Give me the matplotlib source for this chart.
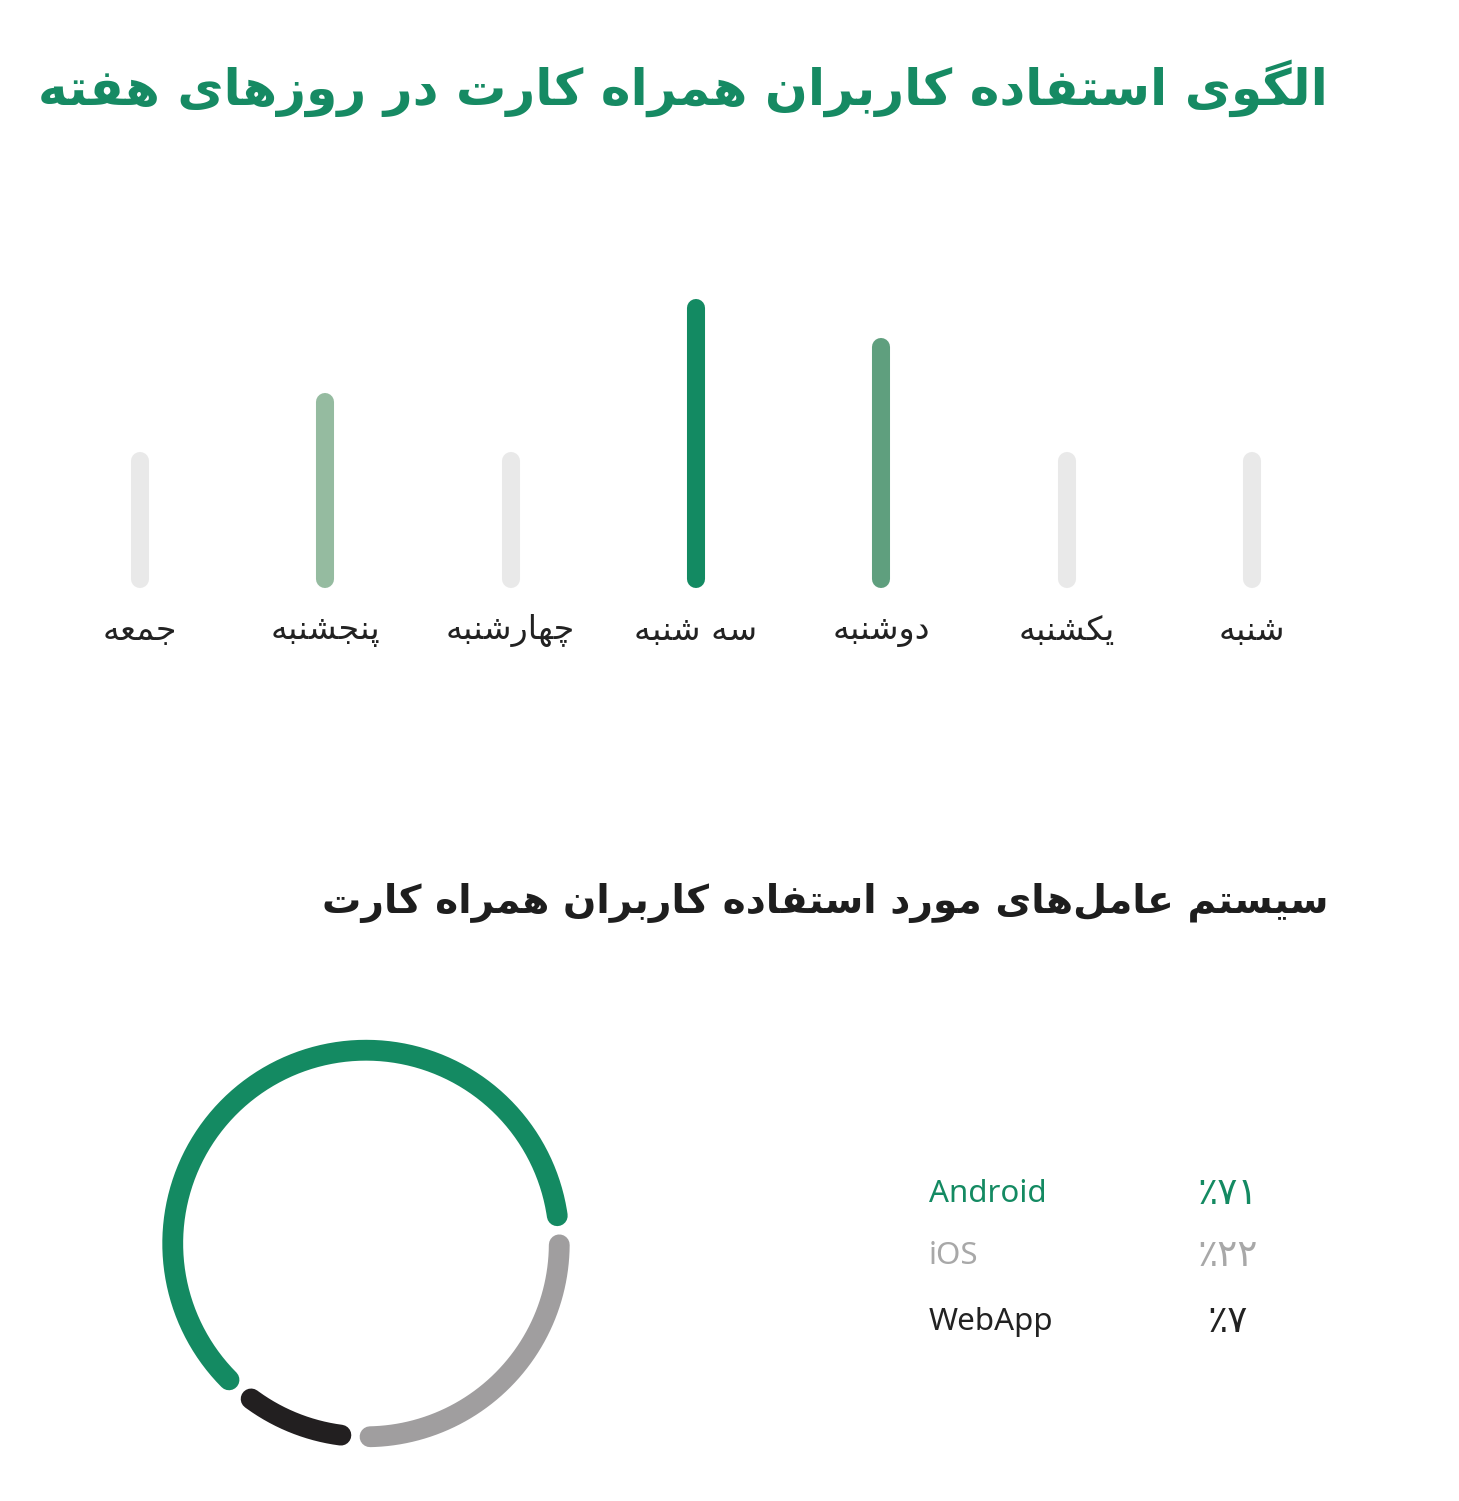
import numpy as np
import matplotlib
matplotlib.use('Agg')
import matplotlib.pyplot as plt

# ---- data ----
title = 'الگوی استفاده کاربران همراه کارت در روزهای هفته'
subtitle = 'سیستم عامل‌های مورد استفاده کاربران همراه کارت'

days = ['جمعه', 'پنجشنبه', 'چهارشنبه', 'سه شنبه', 'دوشنبه', 'یکشنبه', 'شنبه']
day_values = [10, 15, 10, 23, 19.7, 10, 10]
day_colors = ['#e9e9e9', '#95bba0', '#e9e9e9', '#138a62', '#5f9f7e', '#e9e9e9', '#e9e9e9']

os_names = ['Android', 'iOS', 'WebApp']
os_percent = [71, 22, 7]
# arc lengths (degrees) as drawn in the original, not exactly proportional
os_arc_deg = [216.6, 88.4, 29.0]
os_arc_colors = ['#148a62', '#a09e9f', '#221f20']
os_text_colors = ['#148a62', '#a8a8a8', '#222222']

W, H = 1459, 1501

# ---- minimal persian shaping (DejaVu Sans has the presentation forms) ----
FORMS = {
    'ا': ('\uFE8D', '\uFE8E', None, None),
    'ب': ('\uFE8F', '\uFE90', '\uFE91', '\uFE92'),
    'پ': ('\uFB56', '\uFB57', '\uFB58', '\uFB59'),
    'ت': ('\uFE95', '\uFE96', '\uFE97', '\uFE98'),
    'ج': ('\uFE9D', '\uFE9E', '\uFE9F', '\uFEA0'),
    'چ': ('\uFB7A', '\uFB7B', '\uFB7C', '\uFB7D'),
    'د': ('\uFEA9', '\uFEAA', None, None),
    'ر': ('\uFEAD', '\uFEAE', None, None),
    'ز': ('\uFEAF', '\uFEB0', None, None),
    'س': ('\uFEB1', '\uFEB2', '\uFEB3', '\uFEB4'),
    'ش': ('\uFEB5', '\uFEB6', '\uFEB7', '\uFEB8'),
    'ع': ('\uFEC9', '\uFECA', '\uFECB', '\uFECC'),
    'ف': ('\uFED1', '\uFED2', '\uFED3', '\uFED4'),
    'ک': ('\uFB8E', '\uFB8F', '\uFB90', '\uFB91'),
    'گ': ('\uFB92', '\uFB93', '\uFB94', '\uFB95'),
    'ل': ('\uFEDD', '\uFEDE', '\uFEDF', '\uFEE0'),
    'م': ('\uFEE1', '\uFEE2', '\uFEE3', '\uFEE4'),
    'ن': ('\uFEE5', '\uFEE6', '\uFEE7', '\uFEE8'),
    'و': ('\uFEED', '\uFEEE', None, None),
    'ه': ('\uFEE9', '\uFEEA', '\uFEEB', '\uFEEC'),
    'ی': ('\uFBFC', '\uFBFD', '\uFBFE', '\uFBFF'),
}


def fa(text):
    out = []
    for i, c in enumerate(text):
        if c not in FORMS:
            out.append(c)
            continue
        prev = text[i - 1] if i > 0 else None
        nxt = text[i + 1] if i + 1 < len(text) else None
        join_prev = prev in FORMS and FORMS[prev][2] is not None
        join_next = nxt in FORMS and FORMS[c][2] is not None
        iso, fin, ini, med = FORMS[c]
        if join_prev and join_next:
            out.append(med)
        elif join_prev:
            out.append(fin)
        elif join_next:
            out.append(ini)
        else:
            out.append(iso)
    return ''.join(out).replace('\u200c', '')[::-1]


def fa_percent(n):
    digits = str(n).translate(str.maketrans('0123456789', '۰۱۲۳۴۵۶۷۸۹'))
    return '٪' + digits


def px(x, y):
    return x / W, 1 - y / H


def fit_width(t, target):
    # shrink/grow a text so it spans `target` pixels
    r = fig.canvas.get_renderer()
    for _ in range(3):
        w = t.get_window_extent(r).width
        t.set_fontsize(t.get_fontsize() * target / w)


fig = plt.figure(figsize=(W / 100, H / 100), dpi=100)
fig.patch.set_facecolor('white')

# title
t_title = fig.text(*px(1328, 88), fa(title), ha='right', va='center', fontsize=34,
                   fontweight='bold', color='#168a63', family='DejaVu Sans')
fit_width(t_title, 1290)

# ---- weekday bars ----
ax = fig.add_axes([47 / W, 1 - 579 / H, 1298 / W, 291 / H])
ax.set_xlim(-0.5, len(days) - 0.5)
ax.set_ylim(0, 291 / 11.8)
ax.axis('off')
for i, (v, c) in enumerate(zip(day_values, day_colors)):
    ax.plot([i, i], [0, v], color=c, lw=13, solid_capstyle='round', clip_on=False)
for i, d in enumerate(days):
    xf = (47 + (i + 0.5) * 1298 / len(days)) / W
    fig.text(xf, 1 - 631 / H, fa(d), ha='center', va='center', fontsize=24,
             color='#222222', family='DejaVu Sans')

# subtitle
t_sub = fig.text(*px(1328, 903), fa(subtitle), ha='right', va='center', fontsize=28.2,
                 fontweight='bold', color='#1e1e1e', family='DejaVu Sans')
fit_width(t_sub, 1005)

# ---- OS donut ----
ax2 = fig.add_axes([136 / W, 1 - 1473.5 / H, 460 / W, 460 / H])
ax2.set_xlim(-1.19, 1.19)
ax2.set_ylim(-1.19, 1.19)
ax2.set_aspect('equal')
ax2.axis('off')
gap = (360 - sum(os_arc_deg)) / len(os_arc_deg)
cur = 229.2
for sweep, c in zip(os_arc_deg, os_arc_colors):
    a0 = cur - gap / 2
    a1 = a0 - sweep
    t = np.radians(np.linspace(a0, a1, 200))
    ax2.plot(np.cos(t), np.sin(t), color=c, lw=15, solid_capstyle='round')
    cur = a1 - gap / 2

rows_y = [1194, 1256, 1322]
for name, p, c, y in zip(os_names, os_percent, os_text_colors, rows_y):
    fig.text(*px(929, y), name, ha='left', va='center', fontsize=22.5,
             color=c, family='Noto Sans')
    fig.text(*px(1228, y), fa_percent(p), ha='center', va='center', fontsize=27,
             color=c, family='DejaVu Sans')

fig.savefig('out.png', dpi=100, facecolor='white')
